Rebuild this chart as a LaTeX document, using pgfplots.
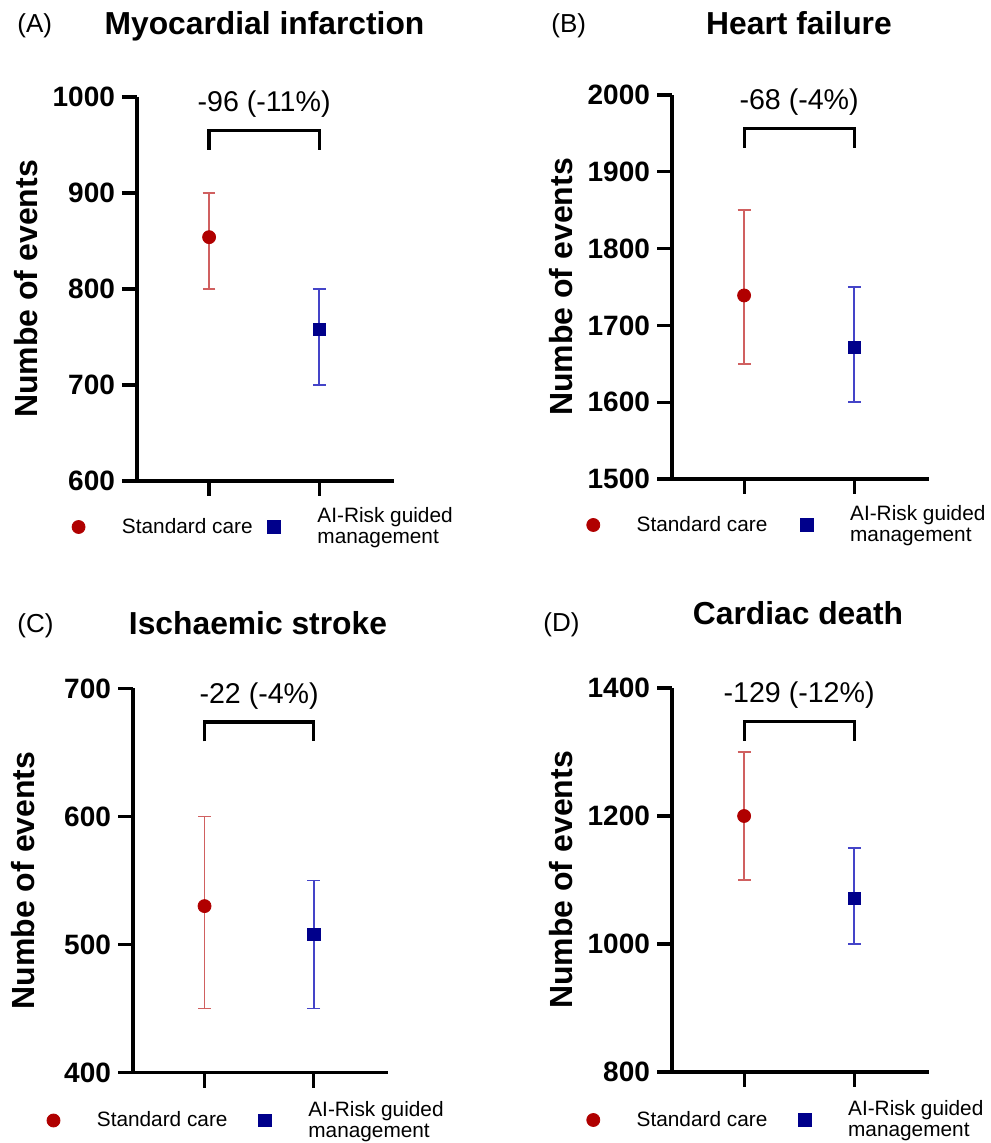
\documentclass[border=0pt]{standalone}
\usepackage{fontspec}
\setmainfont{Liberation Sans}
\usepackage{pgfplots}
\pgfplotsset{compat=1.18}
\definecolor{scred}{HTML}{B00000}
\definecolor{errred}{HTML}{D06060}
\definecolor{ainavy}{HTML}{00008B}
\definecolor{errblue}{HTML}{4444C8}

\pgfplotsset{
  panel/.style={
    scale only axis, width=128.5pt, height=192pt,
    axis x line*=bottom, axis y line*=left,
    axis line style={-, line width=1.6pt},
    every tick/.style={black, line width=1.6pt},
    major tick length=7.5pt, tick align=outside,
    xmin=0.345, xmax=2.68, xtick={1,2}, xticklabels={,},
    y tick label style={font=\fontsize{14}{14}\selectfont\bfseries},
    /pgf/number format/assume math mode=true,
    /pgf/number format/1000 sep={},
    ylabel={Numbe of events},
    ylabel style={font=\fontsize{16}{16}\selectfont\bfseries, at={(axis description cs:-0.43,0.5)}, anchor=center},
    clip=false,
    legend columns=2,
    legend cell align=left,
    legend style={draw=none, fill=none, inner sep=0pt, outer sep=0pt, anchor=west,
      font=\fontsize{10.4}{10.5}\selectfont, cells={align=left}},
  },
  % legend image: mark, then some empty room before the text
  padded legend/.style={legend image code/.code={%
    \draw[mark repeat=2,mark phase=2,##1] plot coordinates {(0pt,0pt) (8.5pt,0pt) (17pt,0pt)};
    \path (0pt,0pt) (28pt,0pt);}},
  scplot/.style={only marks, mark=*, mark size=3.25pt, color=scred, padded legend,
    error bars/.cd, y dir=both, y explicit,
    error bar style={line width=0.9pt, errred},
    error mark options={rotate=90, mark size=3.2pt, line width=0.9pt, errred}},
  aiplot/.style={only marks, mark=square*, mark size=3.1pt, color=ainavy, padded legend,
    error bars/.cd, y dir=both, y explicit,
    error bar style={line width=0.9pt, errblue},
    error mark options={rotate=90, mark size=3.2pt, line width=0.9pt, errblue}},
}

\newcommand\bracket[1]{%
  \draw[line width=1.6pt] (rel axis cs:0.2805,0.862) -- (rel axis cs:0.2805,0.9128)
    -- (rel axis cs:0.7088,0.9128) -- (rel axis cs:0.7088,0.862);
  \node[anchor=base, font=\fontsize{14.3}{14.3}\selectfont] at (rel axis cs:0.4946,0.962) {#1};
}

\begin{document}
\begin{tikzpicture}
\useasboundingbox (0,0) rectangle (495pt,571.5pt);

% (A) Myocardial infarction
\begin{axis}[panel, at={(68.5pt,331pt)}, anchor=south west,
  ymin=600, ymax=1000, ytick={600,700,800,900,1000},
  legend style={at={(axis description cs:-0.295,-0.1198)},
    /tikz/every even column/.append style={column sep=0pt}}]
  \addplot[scplot] table[x=x, y=y, y error plus=ep, y error minus=em] {
x y ep em
1 854 46 54
};
  \addplot[aiplot] table[x=x, y=y, y error plus=ep, y error minus=em] {
x y ep em
2 758 42 58
};
  \legend{Standard care, {AI-Risk guided\\management}}
  \bracket{-96 (-11\%)}
\end{axis}

% (B) Heart failure
\begin{axis}[panel, at={(336pt,332pt)}, anchor=south west,
  ymin=1500, ymax=2000, ytick={1500,1600,1700,1800,1900,2000},
  legend style={at={(axis description cs:-0.374,-0.1198)},
    /tikz/every even column/.append style={column sep=9pt}}]
  \addplot[scplot] table[x=x, y=y, y error plus=ep, y error minus=em] {
x y ep em
1 1739 111 89
};
  \addplot[aiplot] table[x=x, y=y, y error plus=ep, y error minus=em] {
x y ep em
2 1671 79 71
};
  \legend{Standard care, {AI-Risk guided\\management}}
  \bracket{-68 (-4\%)}
\end{axis}

% (C) Ischaemic stroke
\begin{axis}[panel, at={(66.5pt,35.25pt)}, anchor=south west, width=127.5pt,
  ymin=400, ymax=700, ytick={400,500,600,700},
  legend style={at={(axis description cs:-0.380,-0.125)},
    /tikz/every even column/.append style={column sep=8pt}}]
  \addplot[scplot] table[x=x, y=y, y error plus=ep, y error minus=em] {
x y ep em
1 530 70 80
};
  \addplot[aiplot] table[x=x, y=y, y error plus=ep, y error minus=em] {
x y ep em
2 508 42 58
};
  \legend{Standard care, {AI-Risk guided\\management}}
  \bracket{-22 (-4\%)}
\end{axis}

% (D) Cardiac death
\begin{axis}[panel, at={(336pt,35.5pt)}, anchor=south west,
  ymin=800, ymax=1400, ytick={800,1000,1200,1400},
  legend style={at={(axis description cs:-0.374,-0.125)},
    /tikz/every even column/.append style={column sep=8pt}}]
  \addplot[scplot] table[x=x, y=y, y error plus=ep, y error minus=em] {
x y ep em
1 1200 100 100
};
  \addplot[aiplot] table[x=x, y=y, y error plus=ep, y error minus=em] {
x y ep em
2 1071 79 71
};
  \legend{Standard care, {AI-Risk guided\\management}}
  \bracket{-129 (-12\%)}
\end{axis}

% titles and panel letters
\begin{scope}[every node/.style={font=\fontsize{15.9}{16}\selectfont\bfseries, anchor=base}]
  \node at (132.25pt,554pt) {Myocardial infarction};
  \node at (399.5pt,554pt) {Heart failure};
  \node at (129pt,254pt) {Ischaemic stroke};
  \node at (399pt,259pt) {Cardiac death};
\end{scope}
\begin{scope}[every node/.style={font=\fontsize{13}{13}\selectfont, anchor=base west, inner sep=0pt}]
  \node at (8.5pt,555pt) {(A)};
  \node at (275.5pt,555pt) {(B)};
  \node at (8.5pt,255pt) {(C)};
  \node at (271.5pt,255.5pt) {(D)};
\end{scope}
\end{tikzpicture}
\end{document}
